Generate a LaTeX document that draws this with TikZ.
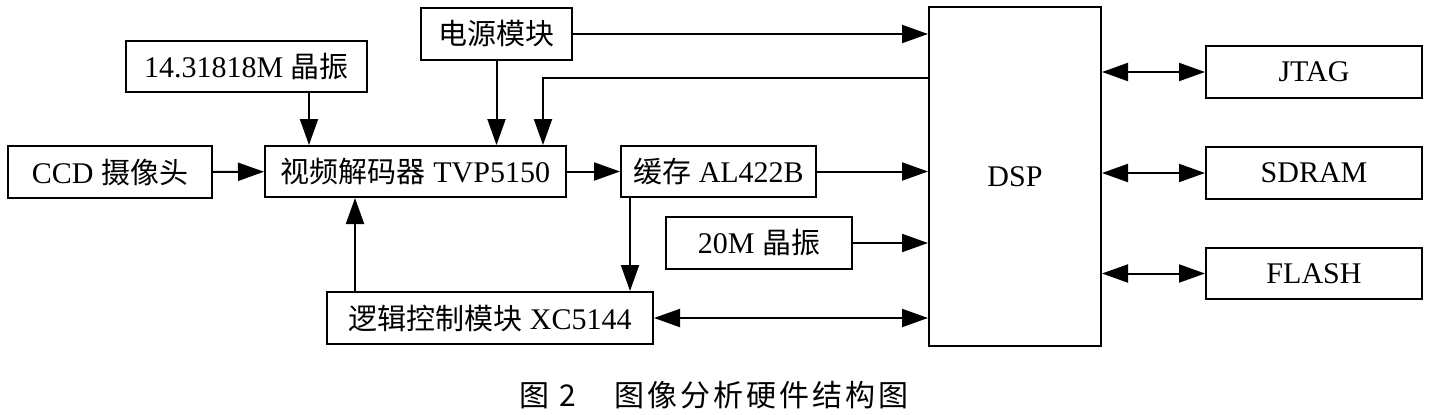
\documentclass[tikz,border=0pt]{standalone}
\usepackage{fontspec}
\setmainfont{Liberation Serif}
\newfontfamily\cjk{Noto Sans CJK SC}
\newfontfamily\cjkcap[LetterSpace=10]{Noto Sans CJK SC}
\usepackage{tikz}
\usetikzlibrary{arrows.meta}
\usetikzlibrary{positioning}

\begin{document}
\begin{tikzpicture}
		[x=1pt,y=-1pt,every node/.style={inner sep=0pt},
		blk/.style={rectangle, draw=black, line width=2pt, font=\fontsize{30}{34}\selectfont},
		arr/.style={line width=2pt, -{Triangle[length=26pt,width=18pt]}},
		darr/.style={line width=2pt, {Triangle[length=26pt,width=18pt]}-{Triangle[length=26pt,width=18pt]}}]
		\useasboundingbox (0,0) rectangle (1444,415);
		\node (1) [blk, minimum width=204pt, minimum height=52pt] at (110, 172)  {CCD {\cjk\fontsize{29}{34}\selectfont 摄像头}};
		\node (2) [blk, minimum width=241pt, minimum height=51pt] at (246.5, 66.5)  {14.31818M {\cjk\fontsize{29}{34}\selectfont 晶振}};
		\node (3) [blk, minimum width=151pt, minimum height=52pt] at (496.5, 34)  {\cjk\fontsize{29}{34}\selectfont 电源模块};
		\node (4) [blk, minimum width=301pt, minimum height=51pt] at (415.5, 171.5)  {{\cjk\fontsize{29}{34}\selectfont 视频解码器} TVP5150};
		\node (5) [blk, minimum width=195pt, minimum height=51pt] at (718.5, 171.5)  {{\cjk\fontsize{29}{34}\selectfont 缓存} AL422B};
		\node (6) [blk, minimum width=186pt, minimum height=52pt] at (759, 243)  {20M {\cjk\fontsize{29}{34}\selectfont 晶振}};
		\node (7) [blk, minimum width=326pt, minimum height=52pt] at (490, 318)  {{\cjk\fontsize{29}{34}\selectfont 逻辑控制模块} XC5144};
		\node (8) [blk, minimum width=172pt, minimum height=339pt] at (1015, 176.5)  {DSP};
		\node (9) [blk, minimum width=216pt, minimum height=52pt] at (1314, 72)  {JTAG};
		\node (10) [blk, minimum width=216pt, minimum height=52pt] at (1314, 173)  {SDRAM};
		\node (11) [blk, minimum width=216pt, minimum height=51pt] at (1314, 273.5)  {FLASH};
		\node (cap) [font=\fontsize{30}{34}\selectfont\cjkcap] at (714, 395)  {图\hspace{10pt}2\hspace{38pt}图像分析硬件结构图};
		\draw [arr] (1) to (4);
		\draw [arr] ([xshift=62.5pt]2.south) to ([xshift=62.5pt]2.south |- 4.north);
		\draw [arr] (3.south) to (3.south |- 4.north);
		\draw [arr] (3.east) to (3.east -| 8.west);
		\draw [arr] ([yshift=98.5pt]8.west) -| ([xshift=127.5pt]4.north);
		\draw [arr] (4) to (5);
		\draw [arr] (5.east) to (5.east -| 8.west);
		\draw [arr] ([xshift=-88.5pt]5.south) to ([xshift=-88.5pt]5.south |- 7.north);
		\draw [arr] ([xshift=-135pt]7.north) to ([xshift=-135pt]7.north |- 4.south);
		\draw [arr] (6.east) to (6.east -| 8.west);
		\draw [darr] (7.east) to (7.east -| 8.west);
		\draw [darr] (9.west -| 8.east) to (9.west);
		\draw [darr] (10.west -| 8.east) to (10.west);
		\draw [darr] (11.west -| 8.east) to (11.west);
\end{tikzpicture}
\end{document}
